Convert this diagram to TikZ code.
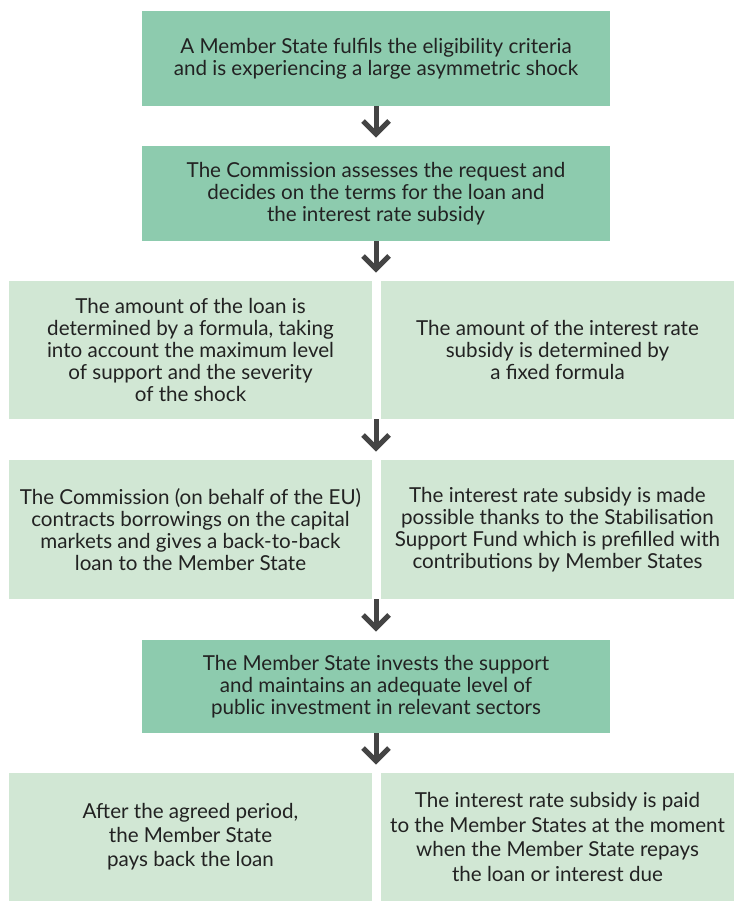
\documentclass[tikz,border=0pt]{standalone}
\usepackage{fontspec}
\setmainfont{Lato}
\usetikzlibrary{calc}
\definecolor{dgreen}{HTML}{8DCBAE}
\definecolor{lgreen}{HTML}{D1E7D4}
\definecolor{arrgray}{HTML}{444444}
\definecolor{txt}{HTML}{222222}
\begin{document}
\begin{tikzpicture}[x=1pt,y=-1pt,
  every node/.style={inner sep=0pt,outer sep=0pt},
  boxbase/.style={align=center,text=txt,font=\fontsize{20.6}{22}\selectfont},
  dark/.style={boxbase,fill=dgreen,minimum width=468pt,minimum height=95pt},
  light/.style={boxbase,fill=lgreen,minimum height=138pt},
  lleft/.style={light,minimum width=363pt},
  lright/.style={light,minimum width=353pt},
  arr/.style={draw=arrgray,line width=5pt,line join=miter}]
\useasboundingbox (0,0) rectangle (734,901);
\node[dark] (b1) at (376,58.5) {A Member State fulfils the eligibility criteria\\and is experiencing a large asymmetric shock};
\node[dark] (b2) at (376,193.5) {The Commission assesses the request and\\decides on the terms for the loan and\\the interest rate subsidy};
\node[lleft] (r3l) at (190.5,350) {The amount of the loan is\\determined by a formula, taking\\into account the maximum level\\of support and the severity\\of the shock};
\node[lright] (r3r) at (557.5,350) {The amount of the interest rate\\subsidy is determined by\\a fixed formula};
\node[lleft,minimum height=139pt] (r4l) at (190.5,529.5) {The Commission (on behalf of the EU)\\contracts borrowings on the capital\\markets and gives a back-to-back\\loan to the Member State};
\node[lright,minimum height=139pt] (r4r) at (557.5,529.5) {The interest rate subsidy is made\\possible thanks to the Stabilisation\\Support Fund which is prefilled with\\contributions by Member States};
\node[dark,minimum height=93pt] (b5) at (376,686.5) {The Member State invests the support\\and maintains an adequate level of\\public investment in relevant sectors};
\node[lleft,minimum height=128pt,font=\fontsize{20.6}{24}\selectfont] (r6l) at (190.5,837) {After the agreed period,\\the Member State\\pays back the loan};
\node[lright,minimum height=128pt,font=\fontsize{20.6}{24.5}\selectfont] (r6r) at (557.5,837) {The interest rate subsidy is paid\\to the Member States at the moment\\when the Member State repays\\the loan or interest due};
% arrows
\coordinate (s3) at (376,419);
\coordinate (s4) at (376,599);
\coordinate (t1) at (376,134);
\coordinate (t2) at (376,269);
\coordinate (t3) at (376,448);
\coordinate (t4) at (376,628);
\coordinate (t5) at (376,761);
\draw[arr] (b1.south) -- (t1);
\draw[arr] ($(t1)+(-13,-13)$) -- (t1) -- ($(t1)+(13,-13)$);
\draw[arr] (b2.south) -- (t2);
\draw[arr] ($(t2)+(-13,-13)$) -- (t2) -- ($(t2)+(13,-13)$);
\draw[arr] (s3) -- (t3);
\draw[arr] ($(t3)+(-13,-13)$) -- (t3) -- ($(t3)+(13,-13)$);
\draw[arr] (s4) -- (t4);
\draw[arr] ($(t4)+(-13,-13)$) -- (t4) -- ($(t4)+(13,-13)$);
\draw[arr] (b5.south) -- (t5);
\draw[arr] ($(t5)+(-13,-13)$) -- (t5) -- ($(t5)+(13,-13)$);
\end{tikzpicture}
\end{document}
